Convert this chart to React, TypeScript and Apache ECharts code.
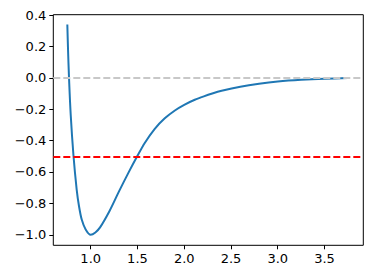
import React, { useEffect, useRef } from "react";
import * as echarts from "echarts";

const xValues = [0.75, 0.757, 0.768, 0.786, 0.815, 0.85, 0.875, 0.904, 0.946, 1.0, 1.05, 1.1, 1.2, 1.3, 1.4, 1.5, 1.578, 1.685, 1.792, 1.9, 2.0, 2.113, 2.21, 2.3, 2.4, 2.6, 2.8, 3.0, 3.25, 3.5, 3.75];
const yValues = [0.34, 0.19, 0.0, -0.234, -0.49, -0.712, -0.818, -0.903, -0.966, -1.0, -0.985, -0.953, -0.85, -0.727, -0.609, -0.497, -0.415, -0.325, -0.258, -0.208, -0.172, -0.14, -0.118, -0.1, -0.083, -0.057, -0.038, -0.024, -0.013, -0.006, -0.002];
const xTicks = [1.0, 1.5, 2.0, 2.5, 3.0, 3.5];
const yTicks = [-1.0, -0.8, -0.6, -0.4, -0.2, 0.0, 0.2, 0.4];
const zeroLine = 0;
const halfLine = -0.5;

const fmt = (v: number) => {
  const s = Number(v).toFixed(1);
  return s.startsWith("-") ? "\u2212" + s.slice(1) : s;
};

export default function App() {
  const ref = useRef<HTMLDivElement>(null);
  useEffect(() => {
    document.body.style.margin = "0";
    const chart = echarts.init(ref.current!, null, { renderer: "svg" });
    const labelStyle = { color: "#000", fontFamily: "DejaVu Sans", fontSize: 13 };
    chart.setOption({
      animation: false,
      grid: { left: 53.3, right: 9.7, top: 14.7, bottom: 33.7, show: true, borderColor: "#000", borderWidth: 1, backgroundColor: "transparent" },
      xAxis: {
        type: "value",
        min: 0.6,
        max: 3.915,
        axisLine: { show: false, onZero: false },
        axisTick: { show: true, length: 4, lineStyle: { color: "#000" }, customValues: xTicks },
        axisLabel: { ...labelStyle, margin: 7, customValues: xTicks, formatter: (v: number) => fmt(v) },
        splitLine: { show: false },
      },
      yAxis: {
        type: "value",
        min: -1.067,
        max: 0.402,
        axisLine: { show: false, onZero: false },
        axisTick: { show: true, length: 4, lineStyle: { color: "#000" }, customValues: yTicks },
        axisLabel: { ...labelStyle, margin: 7, customValues: yTicks, formatter: (v: number) => fmt(v) },
        splitLine: { show: false },
      },
      series: [
        {
          type: "line",
          data: xValues.map((x, i) => [x, yValues[i]]),
          showSymbol: false,
          symbol: "none",
          smooth: 0.3,
          lineStyle: { color: "#1f77b4", width: 2 },
          z: 2,
          markLine: {
            silent: true,
            symbol: "none",
            label: { show: false },
            z: 3,
            data: [
              { yAxis: zeroLine, lineStyle: { color: "#c8c8c8", type: [7, 3], width: 2 } },
              { yAxis: halfLine, lineStyle: { color: "#ff0000", type: [7, 3], width: 2 } },
            ],
          },
        },
      ],
    });
    return () => chart.dispose();
  }, []);
  return <div ref={ref} style={{ width: 373, height: 279 }} />;
}
